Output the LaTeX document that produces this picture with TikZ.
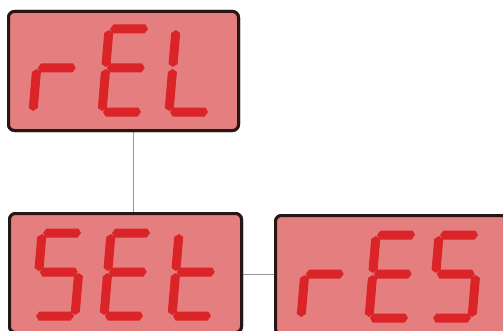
\documentclass[tikz,border=0pt]{standalone}
\usetikzlibrary{calc}
\definecolor{dispfill}{RGB}{229,127,127}
\definecolor{dispborder}{RGB}{38,22,22}
\definecolor{segred}{RGB}{218,36,40}
\definecolor{linkgray}{RGB}{150,150,150}
\tikzset{
  dispbox/.style={draw=dispborder, fill=dispfill, line width=3pt, rounded corners=6pt,
    inner sep=0pt, outer sep=0pt, minimum width=232pt, minimum height=119pt, anchor=north west},
  link/.style={draw=linkgray, line width=0.8pt},
}
% segment shapes in a local digit frame (w=40, h=83, middle at 44)
\newcommand\sgpa{\fill[segred] (1,83) -- (4,87.5) -- (36,87.5) -- (39,83) -- (36,78.5) -- (4,78.5) -- cycle;}
\newcommand\sgpd{\fill[segred] (1,0) -- (4,4.5) -- (36,4.5) -- (39,0) -- (36,-4.5) -- (4,-4.5) -- cycle;}
\newcommand\sgpg{\fill[segred] (1,44) -- (4,48.5) -- (36,48.5) -- (39,44) -- (36,39.5) -- (4,39.5) -- cycle;}
\newcommand\sgpe{\fill[segred] (0,1) -- (4.5,4) -- (4.5,40) -- (0,43) -- (-4.5,40) -- (-4.5,4) -- cycle;}
\newcommand\sgpf{\fill[segred] (0,45) -- (4.5,48) -- (4.5,79) -- (0,82) -- (-4.5,79) -- (-4.5,48) -- cycle;}
\newcommand\sgpc{\fill[segred] (40,1) -- (44.5,4) -- (44.5,40) -- (40,43) -- (35.5,40) -- (35.5,4) -- cycle;}
\newcommand\sgpb{\fill[segred] (40,45) -- (44.5,48) -- (44.5,79) -- (40,82) -- (35.5,79) -- (35.5,48) -- cycle;}
\newcommand\sevdigit[3]{%
  \begin{scope}[shift={(#1,#2)}, xslant=0.085]
    \foreach \sg in {#3}{\csname sgp\sg\endcsname}
  \end{scope}}
\begin{document}
\begin{tikzpicture}[x=1pt,y=1pt]
  \useasboundingbox (0,0) rectangle (503,330);
  \clip (0,0) rectangle (503,330);
  % boxes (drawn as nodes)
  \node[dispbox, minimum width=230pt] (box1) at (8.5,318.5) {};
  \node[dispbox] (box2) at (9.5,116.5) {};
  \node[dispbox] (box3) at (275.5,114.5) {};
  % connectors
  \draw[link] ([xshift=9.5pt]box1.south) -- ([xshift=9.5pt]box1.south |- box2.north);
  \draw[link] ([yshift=-1pt]box2.east) -- ([yshift=-1pt]box2.east -| box3.west);
  % redraw borders over connector ends
  \node[dispbox, minimum width=230pt] at (8.5,318.5) {};
  \node[dispbox] at (9.5,116.5) {};
  \node[dispbox] at (275.5,114.5) {};
  % rEL
  \sevdigit{33}{218}{e,g}
  \sevdigit{102}{218}{a,d,e,f,g}
  \sevdigit{169}{218}{d,e,f}
  % SEt
  \sevdigit{35}{14}{a,f,g,c,d}
  \sevdigit{104}{14}{a,d,e,f,g}
  \sevdigit{172}{14}{d,e,f,g}
  % rES
  \sevdigit{301}{12}{e,g}
  \sevdigit{369}{12}{a,d,e,f,g}
  \sevdigit{432}{12}{a,f,g,c,d}
\end{tikzpicture}
\end{document}
